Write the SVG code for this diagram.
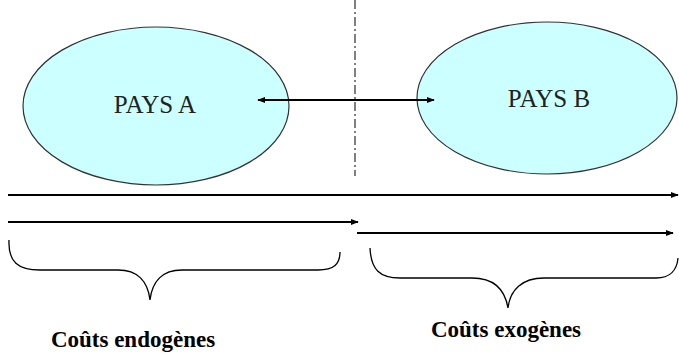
<svg xmlns="http://www.w3.org/2000/svg" width="679" height="356" viewBox="0 0 679 356">
<style>
.node{fill:#CCFFFF;stroke:#333;stroke-width:1.2}
.lbl{font-family:"Liberation Serif",serif;font-size:25px;fill:#222;text-anchor:middle}
.cap{font-family:"Liberation Serif",serif;font-size:23px;font-weight:bold;fill:#000;text-anchor:middle}
.ln{stroke:#000;stroke-width:2;fill:none}
.br{stroke:#000;stroke-width:1.3;fill:none}
</style>
<defs>
<marker id="ah" viewBox="0 0 10 10" refX="9" refY="5" markerWidth="4" markerHeight="4" orient="auto-start-reverse"><path d="M0,1 L10,5 L0,9 Z" fill="#000"/></marker>
</defs>
<rect width="679" height="356" fill="#fff"/>
<line x1="355" y1="0" x2="355" y2="176" stroke="#000" stroke-width="1" stroke-dasharray="9,3,2,3"/>
<g id="paysA"><ellipse class="node" cx="156" cy="106" rx="133" ry="79"/><text class="lbl" x="155" y="113">PAYS A</text></g>
<g id="paysB"><ellipse class="node" cx="547" cy="98" rx="130" ry="76"/><text class="lbl" x="549" y="107">PAYS B</text></g>
<g id="connectors">
<line class="ln" x1="258" y1="100" x2="434" y2="100" stroke-width="3" marker-start="url(#ah)" marker-end="url(#ah)"/>
<line class="ln" x1="8" y1="195" x2="678" y2="195" marker-end="url(#ah)"/>
<line class="ln" x1="8" y1="222" x2="358" y2="222" marker-end="url(#ah)"/>
<line class="ln" x1="357" y1="233" x2="673" y2="233" marker-end="url(#ah)"/>
<path class="br" d="M9,240 C8,262 18,270 40,270 L118,270 C138,270 148,282 150,300 C152,282 162,270 182,270 L318,270 C334,270 340,264 340,252"/>
<path class="br" d="M370,248 C371,270 380,278 400,278 L472,278 C494,278 505,290 508,308 C510,290 522,278 544,278 L656,278 C670,278 677,270 678,258"/>
</g>
<text class="cap" x="133" y="347">Coûts endogènes</text>
<text class="cap" x="506" y="337">Coûts exogènes</text>
</svg>
